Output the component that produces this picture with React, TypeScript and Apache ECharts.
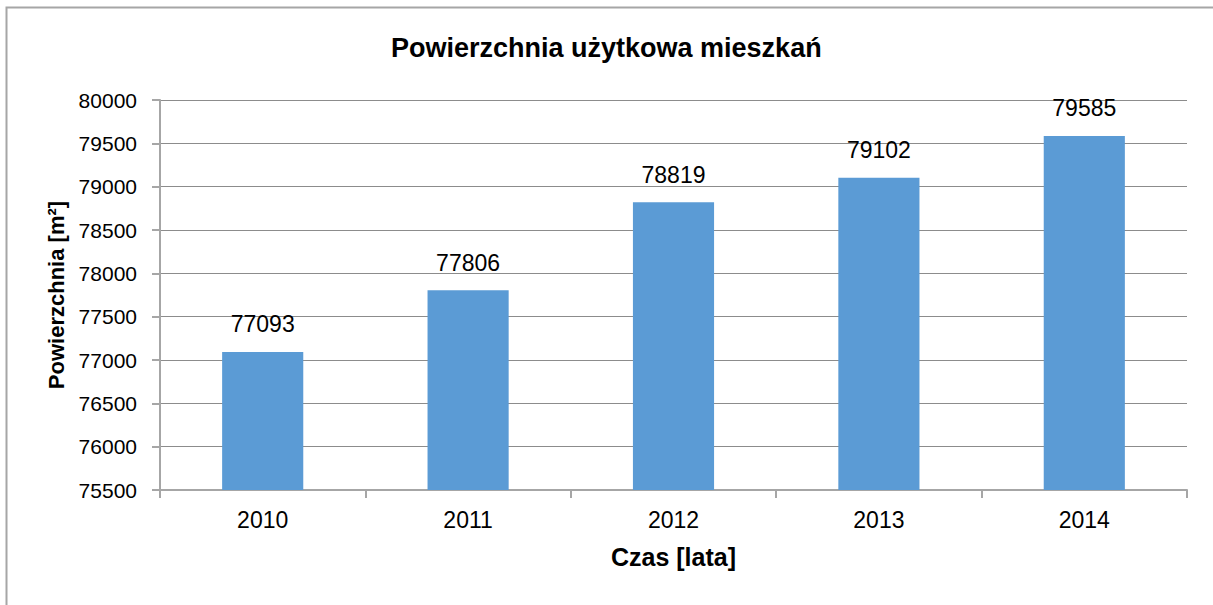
import React, { useEffect, useRef } from "react";
import * as echarts from "echarts";

const categories = ["2010", "2011", "2012", "2013", "2014"];
const values = [77093, 77806, 78819, 79102, 79585];
const yMin = 75500;
const yMax = 80000;
const yInterval = 500;
const titleText = "Powierzchnia użytkowa mieszkań";
const xName = "Czas [lata]";
const yName = "Powierzchnia [m²]";

export default function App() {
  const ref = useRef<HTMLDivElement>(null);
  useEffect(() => {
    if (!ref.current) return;
    const chart = echarts.init(ref.current, null, { renderer: "svg" });
    const font = "Liberation Sans, Arial, sans-serif";
    chart.setOption({
      animation: false,
      backgroundColor: "#ffffff",
      textStyle: { fontFamily: font },
      title: {
        text: titleText,
        left: 386,
        top: 29,
        textStyle: { fontFamily: font, fontSize: 27, fontWeight: "bold", color: "#000" },
      },
      graphic: [
        {
          type: "rect",
          shape: { x: 6.5, y: 7.5, width: 1220, height: 620 },
          style: { fill: "none", stroke: "#a6a6a6", lineWidth: 2 },
          silent: true,
        },
      ],
      grid: { left: 160, right: 26, top: 100, bottom: 115, containLabel: false },
      xAxis: {
        type: "category",
        data: categories,
        name: xName,
        nameLocation: "middle",
        nameGap: 54,
        nameTextStyle: { fontFamily: font, fontSize: 25, fontWeight: "bold", color: "#000" },
        axisLine: { lineStyle: { color: "#a6a6a6", width: 2 } },
        axisTick: { show: true, length: 8, alignWithLabel: false, lineStyle: { color: "#a6a6a6", width: 2 } },
        axisLabel: { fontFamily: font, fontSize: 23, color: "#000", margin: 18 },
      },
      yAxis: {
        type: "value",
        min: yMin,
        max: yMax,
        interval: yInterval,
        name: yName,
        nameLocation: "middle",
        nameGap: 93,
        nameRotate: 90,
        nameTextStyle: { fontFamily: font, fontSize: 22, fontWeight: "bold", color: "#000" },
        axisLine: { show: true, lineStyle: { color: "#a6a6a6", width: 2 } },
        axisTick: { show: true, length: 8, lineStyle: { color: "#a6a6a6", width: 2 } },
        axisLabel: {
          fontFamily: font,
          fontSize: 21,
          color: "#000",
          margin: 23,
          formatter: (v: number) => String(v),
        },
        splitLine: { show: true, lineStyle: { color: "#8c8c8c", width: 1 } },
      },
      series: [
        {
          type: "bar",
          data: values,
          barWidth: "39.5%",
          itemStyle: { color: "#5b9bd5" },
          label: {
            show: true,
            position: "top",
            distance: 16,
            fontFamily: font,
            fontSize: 23,
            color: "#000",
          },
        },
      ],
    });
    return () => chart.dispose();
  }, []);
  return (
    <div
      ref={ref}
      style={{ position: "absolute", left: 0, top: 0, width: 1213, height: 605, background: "#fff" }}
    />
  );
}
